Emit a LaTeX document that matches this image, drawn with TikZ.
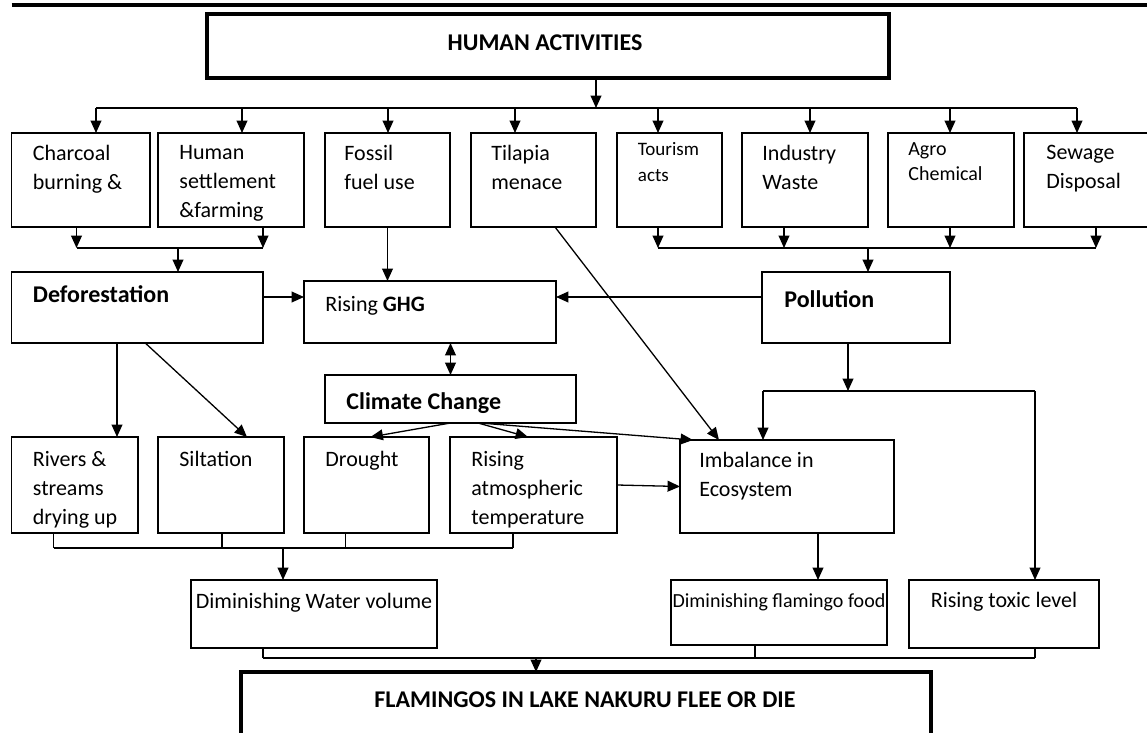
\documentclass[tikz,border=0pt]{standalone}
\usepackage{fontspec}
\setmainfont{Carlito}
\usetikzlibrary{arrows.meta,fit}
\colorlet{box edge}{black}
\tikzset{>={Triangle[width=5.4pt,length=6.2pt]},
	box/.style={draw=box edge, line width=0.65pt, inner sep=0pt, outer sep=0pt},
	heavy/.style={box, line width=1.8pt},
	txt/.style={anchor=north west, align=left, inner sep=0pt, font=\fontsize{11}{14.5}\selectfont},
	bold/.style={txt, font=\fontsize{12}{14.5}\selectfont\bfseries},
	small/.style={txt, font=\fontsize{9.5}{13}\selectfont},
	arr/.style={draw=box edge, line width=0.65pt, ->},
	link/.style={draw=box edge, line width=0.65pt}}

\begin{document}
\begin{tikzpicture}[x=0.5pt, y=-0.5pt]
	\useasboundingbox (0,0) rectangle (1147,733);
	\clip (0,0) rectangle (1147,733);
	\draw[line width=2pt] (11.5,5) -- (1147,5);
	
	\node[heavy, fit={(207,14) (889,78)}] (hum) {};
	\node[bold, anchor=center] (humtxt) at (545,42.5) {HUMAN ACTIVITIES};
	
	% activities
	\node[box, fit={(11.5,133) (150,227)}] (char) {};
	\node[box, fit={(158,133) (304,227)}] (sett) {};
	\node[box, fit={(325,133) (450,227)}] (foss) {};
	\node[box, fit={(471,133) (596,227)}] (tila) {};
	\node[box, fit={(617,133) (722,227)}] (tour) {};
	\node[box, fit={(742,133) (868,227)}] (indu) {};
	\node[box, fit={(888,133) (1014,227)}] (agro) {};
	\node[box, fit={(1024,133) (1160,227)}] (sewa) {};
	\node[txt] (chartxt) at (32.5,145) {Charcoal\\burning \&};
	\node[txt] (setttxt) at (179,145) {Human\\settlement\\\&farming};
	\node[txt] (fosstxt) at (344,145) {Fossil\\fuel use};
	\node[txt] (tilatxt) at (491,145) {Tilapia\\menace};
	\node[small] (tourtxt) at (637.5,142) {Tourism\\acts};
	\node[small, font=\fontsize{10}{12.5}\selectfont] (agrotxt) at (908,142) {Agro\\Chemical};
	\node[txt] (indutxt) at (762,145) {Industry\\Waste};
	\node[txt] (sewatxt) at (1046,145) {Sewage\\Disposal};
	
	% causes
	\node[box, fit={(11.5,272) (263,343)}] (defo) {};
	\node[box, fit={(304,281) (556,343)}] (ghg) {};
	\node[box, fit={(762,272) (950,343)}] (poll) {};
	\node[box, fit={(325,375) (576,423)}] (clim) {};
	\node[bold] (defotxt) at (32.5,285) {Deforestation};
	\node[txt] (ghgtxt) at (325,296) {Rising \textbf{GHG}};
	\node[bold] (polltxt) at (784,290) {Pollution};
	\node[bold] (climtxt) at (346,392) {Climate Change};
	
	% effects
	\node[box, fit={(11.5,437) (138,533)}] (rivr) {};
	\node[box, fit={(158,437) (284,533)}] (silt) {};
	\node[box, fit={(304,437) (429,533)}] (drou) {};
	\node[box, fit={(450,437) (617,533)}] (ratm) {};
	\node[box, fit={(680,440) (894,533)}] (imba) {};
	\node[txt] (rivrtxt) at (32.5,451) {Rivers \&\\streams\\drying up};
	\node[txt] (silttxt) at (179,451) {Siltation};
	\node[txt] (droutxt) at (325,451) {Drought};
	\node[txt] (ratmtxt) at (471,451) {Rising\\atmospheric\\temperature};
	\node[txt] (imbatxt) at (699,452) {Imbalance in\\Ecosystem};
	
	\node[box, fit={(191,580) (437,648)}] (dwat) {};
	\node[box, fit={(671,580) (887,645)}] (dfoo) {};
	\node[box, fit={(909,580) (1099,648)}] (rtox) {};
	\node[txt, anchor=center] (dwattxt) at (314,603) {Diminishing Water volume};
	\node[txt, anchor=center, font=\fontsize{10}{12}\selectfont] (dfootxt) at (779,602) {Diminishing flamingo food};
	\node[txt, anchor=center] (rtoxtxt) at (1004,602) {Rising toxic level};
	
	\node[heavy, fit={(241,672) (931,790)}] (flam) {};
	\node[bold, anchor=center] (flamtxt) at (585,700) {FLAMINGOS IN LAKE NAKURU FLEE OR DIE};
	
	% connectors
	\coordinate (topbus) at (596,108);
	\draw[arr] (hum.south -| topbus) -- (topbus);
	\draw[link] (96,108) -- (1077,108);
	\foreach \x/\b in {96/char, 242/sett, 388/foss, 515/tila, 658/tour, 810/indu, 950/agro, 1077/sewa}
		\draw[arr] (\x,108) -- (\b.north -| \x,0);
	
	\foreach \x/\b in {76.5/char, 263/sett}
		\draw[arr] (\b.south -| \x,0) -- (\x,248);
	\draw[link] (76.5,248) -- (263,248);
	\draw[arr] (178,248) -- (defo.north -| 178,0);
	
	\foreach \x/\b in {658/tour, 784/indu, 950/agro, 1096/sewa}
		\draw[arr] (\b.south -| \x,0) -- (\x,248);
	\draw[link] (658,248) -- (1096,248);
	\draw[arr] (868,248) -- (poll.north -| 868,0);
	
	\draw[arr] (foss.south) -- (foss.south |- ghg.north);
	\draw[arr] ([xshift=10.75pt]tila.south) -- ([xshift=19.5pt]imba.north west);
	\draw[arr] (defo.east |- 0,297) -- (ghg.west |- 0,297);
	\draw[arr] (poll.west |- 0,297) -- (ghg.east |- 0,297);
	\draw[link, <->] (clim.north |- ghg.south) -- (clim.north);
	
	\draw[arr] (clim.south) -- ([xshift=2pt]drou.north);
	\draw[arr] ([xshift=13.75pt]clim.south) -- ([xshift=-2.75pt]ratm.north);
	\draw[arr] ([xshift=14.75pt]clim.south) -- ([xshift=6.5pt]imba.north west);
	\draw[arr] (defo.south -| 117,0) -- (rivr.north -| 117,0);
	\draw[arr] ([xshift=4pt]defo.south) -- ([xshift=13pt]silt.north);
	\draw[arr] (ratm.east) -- (imba.west);
	
	\draw[arr] (poll.south -| 848,0) -- (848,391);
	\draw[link] (763,391) -- (1035,391);
	\draw[arr] (763,391) -- (imba.north -| 763,0);
	\draw[arr] (1035,391) -- (rtox.north -| 1035,0);
	
	\foreach \x/\b in {53.6/rivr, 222/silt, 345.6/drou, 513/ratm}
		\draw[link] (\b.south -| \x,0) -- (\x,548);
	\draw[link] (53.6,548) -- (513,548);
	\draw[arr] (283,548) -- (dwat.north -| 283,0);
	
	\draw[arr] (imba.south -| 818,0) -- (dfoo.north -| 818,0);
	
	\foreach \x/\b in {263/dwat, 755/dfoo, 1035/rtox}
		\draw[link] (\b.south -| \x,0) -- (\x,658);
	\draw[link] (263,658) -- (1035,658);
	\draw[arr] (536,658) -- (flam.north -| 536,0);
\end{tikzpicture}
\end{document}
